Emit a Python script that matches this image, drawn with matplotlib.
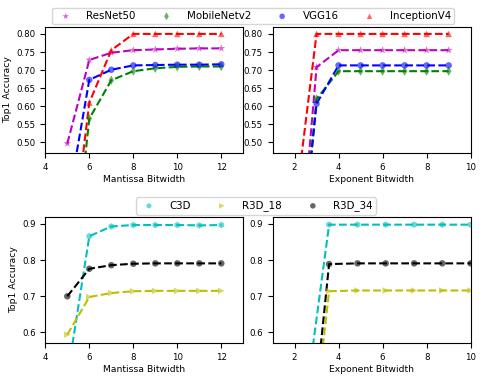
import numpy as np
import matplotlib
matplotlib.use("Agg")
import matplotlib.pyplot as plt

# ---- image classification models (top row) ----
img_labels = ["ResNet50", "MobileNetv2", "VGG16", "InceptionV4"]
img_colors = ["m", "g", "b", "r"]
img_markers = ["*", "d", "o", "^"]

mant_bits = [5, 6, 7, 8, 9, 10, 11, 12]
img_mant_acc = [
    [0.497, 0.728, 0.748, 0.755, 0.757, 0.759, 0.760, 0.760],  # ResNet50
    [0.001, 0.566, 0.672, 0.697, 0.705, 0.709, 0.710, 0.710],  # MobileNetv2
    [0.323, 0.673, 0.701, 0.713, 0.714, 0.715, 0.715, 0.716],  # VGG16
    [0.110, 0.610, 0.755, 0.800, 0.800, 0.800, 0.800, 0.800],  # InceptionV4
]

exp_bits = [2, 3, 4, 5, 6, 7, 8, 9]
img_exp_acc = [
    [0.001, 0.708, 0.755, 0.755, 0.755, 0.755, 0.755, 0.755],
    [0.001, 0.620, 0.697, 0.697, 0.697, 0.697, 0.697, 0.697],
    [0.001, 0.607, 0.713, 0.713, 0.713, 0.713, 0.713, 0.713],
    [0.307, 0.800, 0.800, 0.800, 0.800, 0.800, 0.800, 0.800],
]

# ---- video models (bottom row) ----
vid_labels = ["C3D", "R3D_18", "R3D_34"]
vid_colors = ["c", "y", "k"]
vid_markers = ["h", ">", "o"]

vid_mant_acc = [
    [0.476, 0.866, 0.893, 0.897, 0.897, 0.897, 0.896, 0.897],  # C3D
    [0.594, 0.698, 0.709, 0.714, 0.715, 0.715, 0.715, 0.715],  # R3D_18
    [0.700, 0.776, 0.786, 0.790, 0.791, 0.791, 0.791, 0.791],  # R3D_34
]

vid_exp_bits = [2.29, 3.57, 4.86, 6.14, 7.43, 8.71, 10.0]
vid_exp_acc = [
    [0.314, 0.898, 0.898, 0.898, 0.898, 0.898, 0.898],
    [0.029, 0.714, 0.716, 0.716, 0.716, 0.716, 0.716],
    [0.030, 0.789, 0.791, 0.791, 0.791, 0.791, 0.791],
]

fig = plt.figure(figsize=(4.83, 3.78), dpi=100)
L1, R1, L2, R2 = 0.0938, 0.5037, 0.5642, 0.9745
ax1 = fig.add_axes([L1, 0.5944, R1 - L1, 0.9294 - 0.5944])
ax2 = fig.add_axes([L2, 0.5944, R2 - L2, 0.9294 - 0.5944])
ax3 = fig.add_axes([L1, 0.0918, R1 - L1, 0.4267 - 0.0918])
ax4 = fig.add_axes([L2, 0.0918, R2 - L2, 0.4267 - 0.0918])


def draw(ax, x, series, colors, markers, labels):
    for ys, c, m, lab in zip(series, colors, markers, labels):
        ax.plot(x, ys, "--", color=c, lw=1.5, zorder=2)
        ax.scatter(x, ys, marker=m, color=c, alpha=0.6,
                   s=34 if m == "*" else 22,
                   edgecolors="none", label=lab, zorder=3)


draw(ax1, mant_bits, img_mant_acc, img_colors, img_markers, img_labels)
draw(ax2, exp_bits, img_exp_acc, img_colors, img_markers, img_labels)
draw(ax3, mant_bits, vid_mant_acc, vid_colors, vid_markers, vid_labels)
draw(ax4, vid_exp_bits, vid_exp_acc, vid_colors, vid_markers, vid_labels)

for ax in (ax1, ax3):
    ax.set_xlim(4, 13)
    ax.set_xticks([4, 6, 8, 10, 12])
    ax.set_xlabel("Mantissa Bitwidth", fontsize=6.7, labelpad=2)
    ax.set_ylabel("Top1 Accuracy", fontsize=6.7, labelpad=3)
for ax in (ax2, ax4):
    ax.set_xlim(1, 10)
    ax.set_xticks([2, 4, 6, 8, 10])
    ax.set_xlabel("Exponent Bitwidth", fontsize=6.7, labelpad=2)

for ax in (ax1, ax2):
    ax.set_ylim(0.47, 0.82)
    ax.set_yticks([0.50, 0.55, 0.60, 0.65, 0.70, 0.75, 0.80])
    ax.set_yticklabels(["0.50", "0.55", "0.60", "0.65", "0.70", "0.75", "0.80"])
for ax in (ax3, ax4):
    ax.set_ylim(0.57, 0.92)
    ax.set_yticks([0.6, 0.7, 0.8, 0.9])

for ax in (ax1, ax2, ax3, ax4):
    ax.tick_params(labelsize=6.2)

legend_kw = dict(loc="center", fontsize=7.4, markerscale=0.85, handlelength=2.0,
                 handletextpad=1.0, columnspacing=2.0, borderpad=0.3,
                 frameon=True)
h, l = ax1.get_legend_handles_labels()
fig.legend(h, l, bbox_to_anchor=(0.5246, 0.9577), ncol=4, **legend_kw)
h, l = ax3.get_legend_handles_labels()
fig.legend(h, l, bbox_to_anchor=(0.5297, 0.455), ncol=3, **legend_kw)

fig.savefig("out.png", dpi=100)
